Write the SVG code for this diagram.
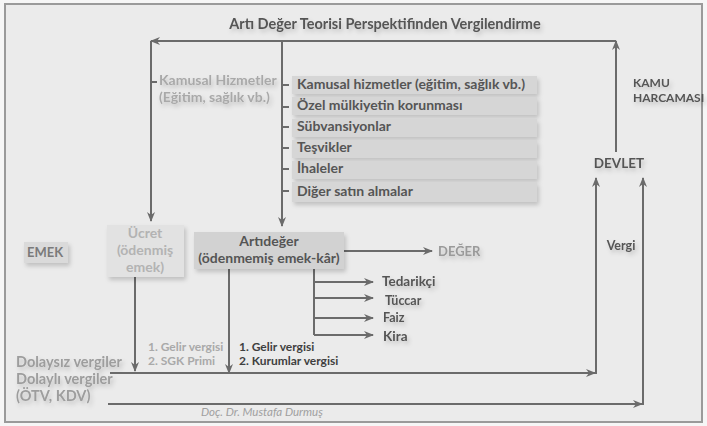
<svg xmlns="http://www.w3.org/2000/svg" width="707" height="426" viewBox="0 0 707 426">
<defs>
<style>
text{font-family:Lato,"Open Sans","DejaVu Sans",sans-serif;font-weight:bold;}
.ln{stroke:#6b6b6b;stroke-width:2;fill:none;}
.ar{marker-end:url(#ah);}
.dk{fill:#555555;}
.lt{fill:#a9a9a9;}
.lbox{fill:#d6d6d6;}
</style>
<marker id="ah" viewBox="0 0 10 8" refX="9" refY="4" markerWidth="10" markerHeight="8" markerUnits="userSpaceOnUse" orient="auto">
<path d="M0,0 L10,4 L0,8 L3,4 z" fill="#6b6b6b"/>
</marker>
<filter id="sh" x="-10%" y="-20%" width="130%" height="160%">
<feDropShadow dx="2" dy="3" stdDeviation="2" flood-color="#000" flood-opacity="0.18"/>
</filter>
</defs>
<rect x="0" y="0" width="707" height="426" fill="#f6f6f6"/>
<rect x="5" y="4" width="697" height="418" fill="#ebebeb" stroke="#9a9a9a" stroke-width="2"/>

<text x="385" y="29" text-anchor="middle" font-size="14.5" class="dk" filter="url(#sh)">Artı Değer Teorisi Perspektifinden Vergilendirme</text>

<g id="connectors">
<line class="ln ar" x1="616" y1="152" x2="616" y2="41"/>
<line class="ln ar" x1="616" y1="41" x2="151" y2="41"/>
<line class="ln ar" x1="151" y1="41" x2="151" y2="221"/>
<line class="ln ar" x1="282" y1="41" x2="282" y2="226"/>
<line class="ln" x1="152" y1="82" x2="157" y2="82"/>
<line class="ln" x1="282" y1="85" x2="289" y2="85"/>
<line class="ln" x1="282" y1="107" x2="289" y2="107"/>
<line class="ln" x1="282" y1="127" x2="289" y2="127"/>
<line class="ln" x1="282" y1="148" x2="289" y2="148"/>
<line class="ln" x1="282" y1="169" x2="289" y2="169"/>
<line class="ln" x1="282" y1="191" x2="289" y2="191"/>
<line class="ln ar" x1="344" y1="251" x2="432" y2="251"/>
<line class="ln" x1="314" y1="269" x2="314" y2="335"/>
<line class="ln ar" x1="314" y1="282" x2="373" y2="282"/>
<line class="ln ar" x1="314" y1="298" x2="373" y2="298"/>
<line class="ln ar" x1="314" y1="318" x2="373" y2="318"/>
<line class="ln ar" x1="314" y1="335" x2="373" y2="335"/>
<line class="ln ar" x1="135" y1="277" x2="135" y2="371"/>
<line class="ln ar" x1="229" y1="269" x2="229" y2="373"/>
<line class="ln ar" x1="110" y1="373" x2="595" y2="373"/>
<line class="ln ar" x1="596" y1="374" x2="596" y2="178"/>
<line class="ln ar" x1="108" y1="404" x2="642" y2="404"/>
<line class="ln ar" x1="643" y1="405" x2="643" y2="178"/>
</g>

<g id="kamusal-hizmetler">
<text x="159" y="85" font-size="14" class="lt" filter="url(#sh)">Kamusal Hizmetler</text>
<text x="159" y="102" font-size="14" class="lt" filter="url(#sh)">(Eğitim, sağlık vb.)</text>
</g>

<g id="liste">
<rect class="lbox" x="292" y="76" width="245" height="18" filter="url(#sh)"/>
<rect class="lbox" x="292" y="97" width="245" height="18" filter="url(#sh)"/>
<rect class="lbox" x="292" y="119" width="245" height="18" filter="url(#sh)"/>
<rect class="lbox" x="292" y="140" width="245" height="18" filter="url(#sh)"/>
<rect class="lbox" x="292" y="161" width="245" height="18" filter="url(#sh)"/>
<rect class="lbox" x="292" y="182" width="245" height="20" filter="url(#sh)"/>
<text x="297" y="89" font-size="14" class="dk">Kamusal hizmetler (eğitim, sağlık vb.)</text>
<text x="297" y="110" font-size="14" class="dk">Özel mülkiyetin korunması</text>
<text x="297" y="131" font-size="14" class="dk">Sübvansiyonlar</text>
<text x="297" y="152" font-size="14" class="dk">Teşvikler</text>
<text x="297" y="173" font-size="14" class="dk">İhaleler</text>
<text x="297" y="196" font-size="14" class="dk">Diğer satın almalar</text>
</g>

<g id="kamu-harcamasi">
<text x="633" y="87" font-size="12" class="dk" filter="url(#sh)">KAMU</text>
<text x="633" y="102" font-size="12" class="dk" filter="url(#sh)">HARCAMASI</text>
</g>

<g id="devlet">
<text x="619" y="168" text-anchor="middle" font-size="13.5" class="dk" filter="url(#sh)">DEVLET</text>
</g>

<g id="vergi">
<text x="621" y="250" text-anchor="middle" font-size="12.5" class="dk" filter="url(#sh)">Vergi</text>
</g>

<g id="emek">
<rect x="24" y="242" width="44" height="21" fill="#dadada" filter="url(#sh)"/>
<text x="45" y="257" text-anchor="middle" font-size="13" fill="#7a7a7a">EMEK</text>
</g>

<g id="ucret">
<rect x="107" y="225" width="77" height="52" fill="#e2e2e2" filter="url(#sh)"/>
<text x="145" y="238" text-anchor="middle" font-size="14" fill="#b3b3b3">Ücret</text>
<text x="145" y="255" text-anchor="middle" font-size="14" fill="#b3b3b3">(ödenmiş</text>
<text x="145" y="272" text-anchor="middle" font-size="14" fill="#b3b3b3">emek)</text>
</g>

<g id="artideger">
<rect x="194" y="232" width="150" height="37" fill="#d2d2d2" filter="url(#sh)"/>
<text x="269" y="246" text-anchor="middle" font-size="14" class="dk">Artıdeğer</text>
<text x="269" y="263" text-anchor="middle" font-size="14" class="dk">(ödenmemiş emek-kâr)</text>
</g>

<g id="deger">
<text x="438" y="256" font-size="13" fill="#9a9a9a" filter="url(#sh)">DEĞER</text>
</g>

<g id="dagitim">
<text x="382" y="286" font-size="13.5" class="dk" filter="url(#sh)">Tedarikçi</text>
<text x="385" y="305" font-size="12.5" class="dk" filter="url(#sh)">Tüccar</text>
<text x="383" y="322" font-size="12.5" class="dk" filter="url(#sh)">Faiz</text>
<text x="383" y="341" font-size="13.5" class="dk" filter="url(#sh)">Kira</text>
</g>

<g id="ucret-vergi">
<text x="148" y="351" font-size="12" class="lt">1. Gelir vergisi</text>
<text x="148" y="365" font-size="12" class="lt">2. SGK Primi</text>
</g>

<g id="artideger-vergi">
<text x="239" y="351" font-size="12" fill="#3f3f3f">1. Gelir vergisi</text>
<text x="239" y="365" font-size="12" fill="#3f3f3f">2. Kurumlar vergisi</text>
</g>

<g id="vergiler">
<text x="16" y="367" font-size="14.5" fill="#9d9d9d" filter="url(#sh)">Dolaysız vergiler</text>
<text x="16" y="384" font-size="14.5" fill="#9d9d9d" filter="url(#sh)">Dolaylı vergiler</text>
<text x="16" y="401" font-size="14.5" fill="#9d9d9d" filter="url(#sh)">(ÖTV, KDV)</text>
</g>

<text x="201" y="416" font-size="11.5" font-style="italic" style="font-weight:normal" fill="#a0a0a0">Doç. Dr. Mustafa Durmuş</text>
</svg>
